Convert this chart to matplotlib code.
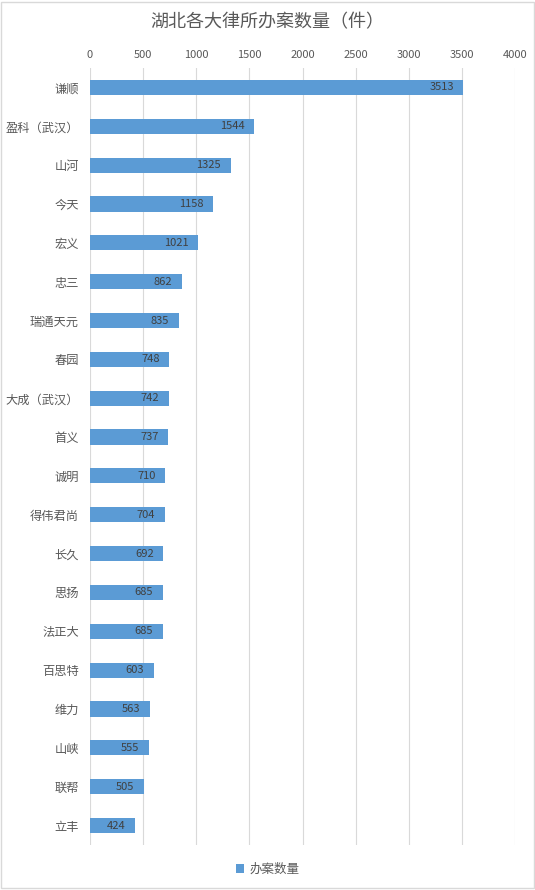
import matplotlib.pyplot as plt
from matplotlib.patches import Rectangle

plt.rcParams['font.family'] = ['Noto Sans CJK SC', 'DejaVu Sans']

firms = ['谦顺', '盈科（武汉）', '山河', '今天', '宏义', '忠三', '瑞通天元', '春园',
         '大成（武汉）', '首义', '诚明', '得伟君尚', '长久', '思扬', '法正大', '百思特',
         '维力', '山峡', '联帮', '立丰']
cases = [3513, 1544, 1325, 1158, 1021, 862, 835, 748, 742, 737, 710, 704, 692,
         685, 685, 603, 563, 555, 505, 424]
xticks = [0, 500, 1000, 1500, 2000, 2500, 3000, 3500, 4000]

bar_color = '#5B9BD5'
text_color = '#595959'

fig = plt.figure(figsize=(5.35, 8.9), dpi=100)
ax = fig.add_axes([0.168, 0.0506, 0.795, 0.873])

ypos = list(range(len(firms)))
bars = ax.barh(ypos, cases, height=0.39, color=bar_color, label='办案数量', zorder=2)
for b, v in zip(bars, cases):
    ax.annotate(str(v), (b.get_width(), b.get_y() + b.get_height() / 2),
                xytext=(-7, 0), textcoords='offset points',
                ha='right', va='center', fontsize=8, color='#404040', zorder=3)

ax.set_ylim(len(firms) - 0.5, -0.5)
ax.set_xlim(0, 4000)
ax.set_xticks(xticks)
ax.xaxis.tick_top()
ax.tick_params(axis='x', length=0, labelsize=8, colors=text_color, pad=6)
ax.set_yticks(ypos)
ax.set_yticklabels(firms, fontsize=8.8, color=text_color)
ax.tick_params(axis='y', length=0, pad=8)
ax.grid(axis='x', color='#D9D9D9', linewidth=0.8, zorder=0)
for s in ax.spines.values():
    s.set_visible(False)

fig.text(0.5, 0.975, '湖北各大律所办案数量（件）', ha='center', va='center',
         fontsize=13, color=text_color)
fig.legend(loc='center', bbox_to_anchor=(0.5, 0.023), frameon=False, fontsize=9,
           handlelength=0.7, handleheight=0.7, handletextpad=0.4, labelcolor=text_color)

fig.patches.append(Rectangle((0.002, 0.002), 0.996, 0.996, transform=fig.transFigure,
                             fill=False, edgecolor='#D9D9D9', linewidth=1))

fig.savefig('out.png', dpi=100)
